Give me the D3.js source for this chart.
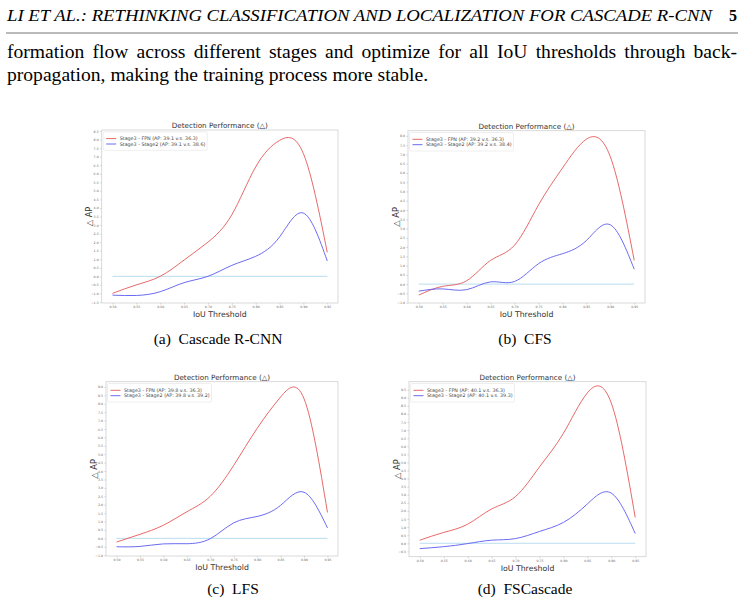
<!DOCTYPE html>
<html>
<head>
<meta charset="utf-8">
<script src="https://cdn.jsdelivr.net/npm/d3@7"></script>
<style>
  body { margin: 0; background: #fff; }
  svg { display: block; }
</style>
</head>
<body>
<div id="page"></div>
<script>
// IoU thresholds (x axis, shared by all four plots)
const iou = [0.50, 0.55, 0.60, 0.65, 0.70, 0.75, 0.80, 0.85, 0.90, 0.95];

// delta AP values
const redA  = [-1.0, -0.5, 0.0, 0.95, 2.0, 3.6, 6.4, 7.95, 7.18, 1.4];
const blueA = [-1.1, -1.12, -0.9, -0.37, 0.0, 0.64, 1.17, 2.3, 3.7, 0.9];
const redB  = [-0.59, -0.12, 0.18, 1.28, 2.1, 4.27, 6.26, 7.82, 6.88, 1.28];
const blueB = [-0.38, -0.26, -0.3, 0.12, 0.14, 1.1, 1.64, 2.35, 3.2, 0.8];
const redC  = [-0.22, 0.24, 0.78, 1.58, 2.5, 4.34, 6.54, 8.4, 8.3, 1.54];
const blueC = [-0.5, -0.48, -0.33, -0.32, -0.02, 0.92, 1.3, 1.96, 2.74, 0.62];
const redD  = [0.19, 0.67, 1.18, 2.12, 2.89, 4.72, 6.8, 9.3, 8.67, 1.6];
const blueD = [-0.33, -0.21, -0.02, 0.19, 0.29, 0.73, 1.29, 2.43, 3.1, 0.6];

// y limits of each plot
const yLimA = [-1.56, 8.56];
const yLimB = [-1.02, 8.28];
const yLimC = [-1.05, 9.31];
const yLimD = [-0.83, 9.99];

const legendA = ["Stage3 - FPN (AP: 39.1 v.s. 36.3)", "Stage3 - Stage2 (AP: 39.1 v.s. 38.6)"];
const legendB = ["Stage3 - FPN (AP: 39.2 v.s. 36.3)", "Stage3 - Stage2 (AP: 39.2 v.s. 38.4)"];
const legendC = ["Stage3 - FPN (AP: 39.8 v.s. 36.3)", "Stage3 - Stage2 (AP: 39.8 v.s. 39.2)"];
const legendD = ["Stage3 - FPN (AP: 40.1 v.s. 36.3)", "Stage3 - Stage2 (AP: 40.1 v.s. 39.3)"];

const captions = ["(a)  Cascade R-CNN", "(b)  CFS", "(c)  LFS", "(d)  FSCascade"];

const WIDTH = 744;
const HEIGHT = 604;
const SERIF = "'Liberation Serif', 'Times New Roman', serif";
const SANS = "'DejaVu Sans', sans-serif";

const svg = d3.select("#page").append("svg")
    .attr("width", WIDTH).attr("height", HEIGHT);

// encabezado de la pagina
svg.append("text")
    .attr("x", 7).attr("y", 21)
    .attr("font-family", SERIF).attr("font-style", "italic").attr("font-size", 16)
    .attr("textLength", 705).attr("lengthAdjust", "spacingAndGlyphs")
    .text("LI ET AL.: RETHINKING CLASSIFICATION AND LOCALIZATION FOR CASCADE R-CNN");
svg.append("text")
    .attr("x", 737).attr("y", 21).attr("text-anchor", "end")
    .attr("font-family", SERIF).attr("font-weight", "bold").attr("font-size", 16)
    .text("5");
svg.append("line")
    .attr("x1", 6).attr("x2", 738).attr("y1", 33).attr("y2", 33)
    .attr("stroke", "#777").attr("stroke-width", 1.2);

// texto del cuerpo, la primera linea justificada con word-spacing
const line1 = "formation flow across different stages and optimize for all IoU thresholds through back-";
const t1 = svg.append("text")
    .attr("x", 7).attr("y", 58)
    .attr("font-family", SERIF).attr("font-size", 19.6)
    .text(line1);
const gap = (730 - t1.node().getComputedTextLength()) / (line1.split(" ").length - 1);
t1.attr("word-spacing", gap);
svg.append("text")
    .attr("x", 7).attr("y", 81)
    .attr("font-family", SERIF).attr("font-size", 19.6)
    .text("propagation, making the training process more stable.");

// cajas de cada grafico
const panels = [
    { box: [101.7, 130, 338, 303], red: redA, blue: blueA, yLim: yLimA, legend: legendA, cap: [218, 344] },
    { box: [408, 130.7, 645, 303], red: redB, blue: blueB, yLim: yLimB, legend: legendB, cap: [525, 344] },
    { box: [106, 381.7, 338, 556], red: redC, blue: blueC, yLim: yLimC, legend: legendC, cap: [233, 594] },
    { box: [409, 381.7, 646, 556.7], red: redD, blue: blueD, yLim: yLimD, legend: legendD, cap: [525, 594] },
];

panels.forEach((p, i) => drawPanel(p, captions[i]));

function drawPanel(p, caption) {
    const [x0, y0, x1, y1] = p.box;
    const g = svg.append("g");

    const xPad = (d3.max(iou) - d3.min(iou)) * 0.05;
    const x = d3.scaleLinear()
        .domain([d3.min(iou) - xPad, d3.max(iou) + xPad])
        .range([x0, x1]);
    const y = d3.scaleLinear().domain(p.yLim).range([y1, y0]);

    // ticks
    const yTicks = d3.range(Math.ceil(p.yLim[0] / 0.5) * 0.5, p.yLim[1] + 1e-9, 0.5);
    g.append("g").attr("transform", `translate(${x0},0)`)
        .call(d3.axisLeft(y).tickValues(yTicks).tickFormat(d3.format(".1f")).tickSize(1.5).tickPadding(1.5))
        .call(ax => ax.select(".domain").remove())
        .call(ax => ax.selectAll("line").attr("stroke", "#888").attr("stroke-width", 0.4))
        .call(ax => ax.selectAll("text").attr("font-size", 3.2).attr("fill", "#666").attr("font-family", SANS));

    g.append("g").attr("transform", `translate(0,${y1})`)
        .call(d3.axisBottom(x).tickValues(iou).tickFormat(d3.format(".2f")).tickSize(1.5).tickPadding(1.2))
        .call(ax => ax.select(".domain").remove())
        .call(ax => ax.selectAll("line").attr("stroke", "#888").attr("stroke-width", 0.4))
        .call(ax => ax.selectAll("text").attr("font-size", 3.2).attr("fill", "#666").attr("font-family", SANS));

    // marco
    g.append("rect")
        .attr("x", x0).attr("y", y0).attr("width", x1 - x0).attr("height", y1 - y0)
        .attr("fill", "none").attr("stroke", "#d0d0d0").attr("stroke-width", 0.8);

    // linea cero
    g.append("line")
        .attr("x1", x(iou[0])).attr("x2", x(iou[iou.length - 1]))
        .attr("y1", y(0)).attr("y2", y(0))
        .attr("stroke", "#b9dcef").attr("stroke-width", 1);

    const line = d3.line().x((d, j) => x(iou[j])).y(d => y(d)).curve(d3.curveNatural);
    g.append("path").datum(p.red).attr("d", line)
        .attr("fill", "none").attr("stroke", "#e45858").attr("stroke-width", 0.9);
    g.append("path").datum(p.blue).attr("d", line)
        .attr("fill", "none").attr("stroke", "#5a5af0").attr("stroke-width", 0.9);

    // leyenda
    const lg = g.append("g").attr("transform", `translate(${x0 + 1.5},${y0 + 1.8})`);
    lg.append("rect").attr("width", 104).attr("height", 18.5).attr("rx", 1.5)
        .attr("fill", "#fff").attr("stroke", "#ddd").attr("stroke-width", 0.5);
    const colors = ["#e45858", "#5a5af0"];
    p.legend.forEach((t, j) => {
        const yy = 6.8 + j * 5.4;
        lg.append("line").attr("x1", 3).attr("x2", 13).attr("y1", yy).attr("y2", yy)
            .attr("stroke", colors[j]).attr("stroke-width", 0.9);
        lg.append("text").attr("x", 16.5).attr("y", yy + 1.6)
            .attr("font-family", SANS).attr("font-size", 4.8).attr("fill", "#444").text(t);
    });

    // titulos
    const cx = (x0 + x1) / 2;
    g.append("text").attr("x", cx).attr("y", y0 - 2).attr("text-anchor", "middle")
        .attr("font-family", SANS).attr("font-size", 7.2).attr("fill", "#333")
        .text("Detection Performance (△)");
    g.append("text").attr("x", cx).attr("y", y1 + 14).attr("text-anchor", "middle")
        .attr("font-family", SANS).attr("font-size", 7.8).attr("fill", "#333")
        .text("IoU Threshold");
    g.append("text")
        .attr("transform", `translate(${x0 - 9.5},${(y0 + y1) / 2}) rotate(-90)`)
        .attr("text-anchor", "middle")
        .attr("font-family", SANS).attr("font-size", 8.3).attr("fill", "#333")
        .text("△ AP");

    svg.append("text").attr("x", p.cap[0]).attr("y", p.cap[1]).attr("text-anchor", "middle")
        .attr("font-family", SERIF).attr("font-size", 15.5)
        .style("white-space", "pre")
        .text(caption);
}
</script>
</body>
</html>
